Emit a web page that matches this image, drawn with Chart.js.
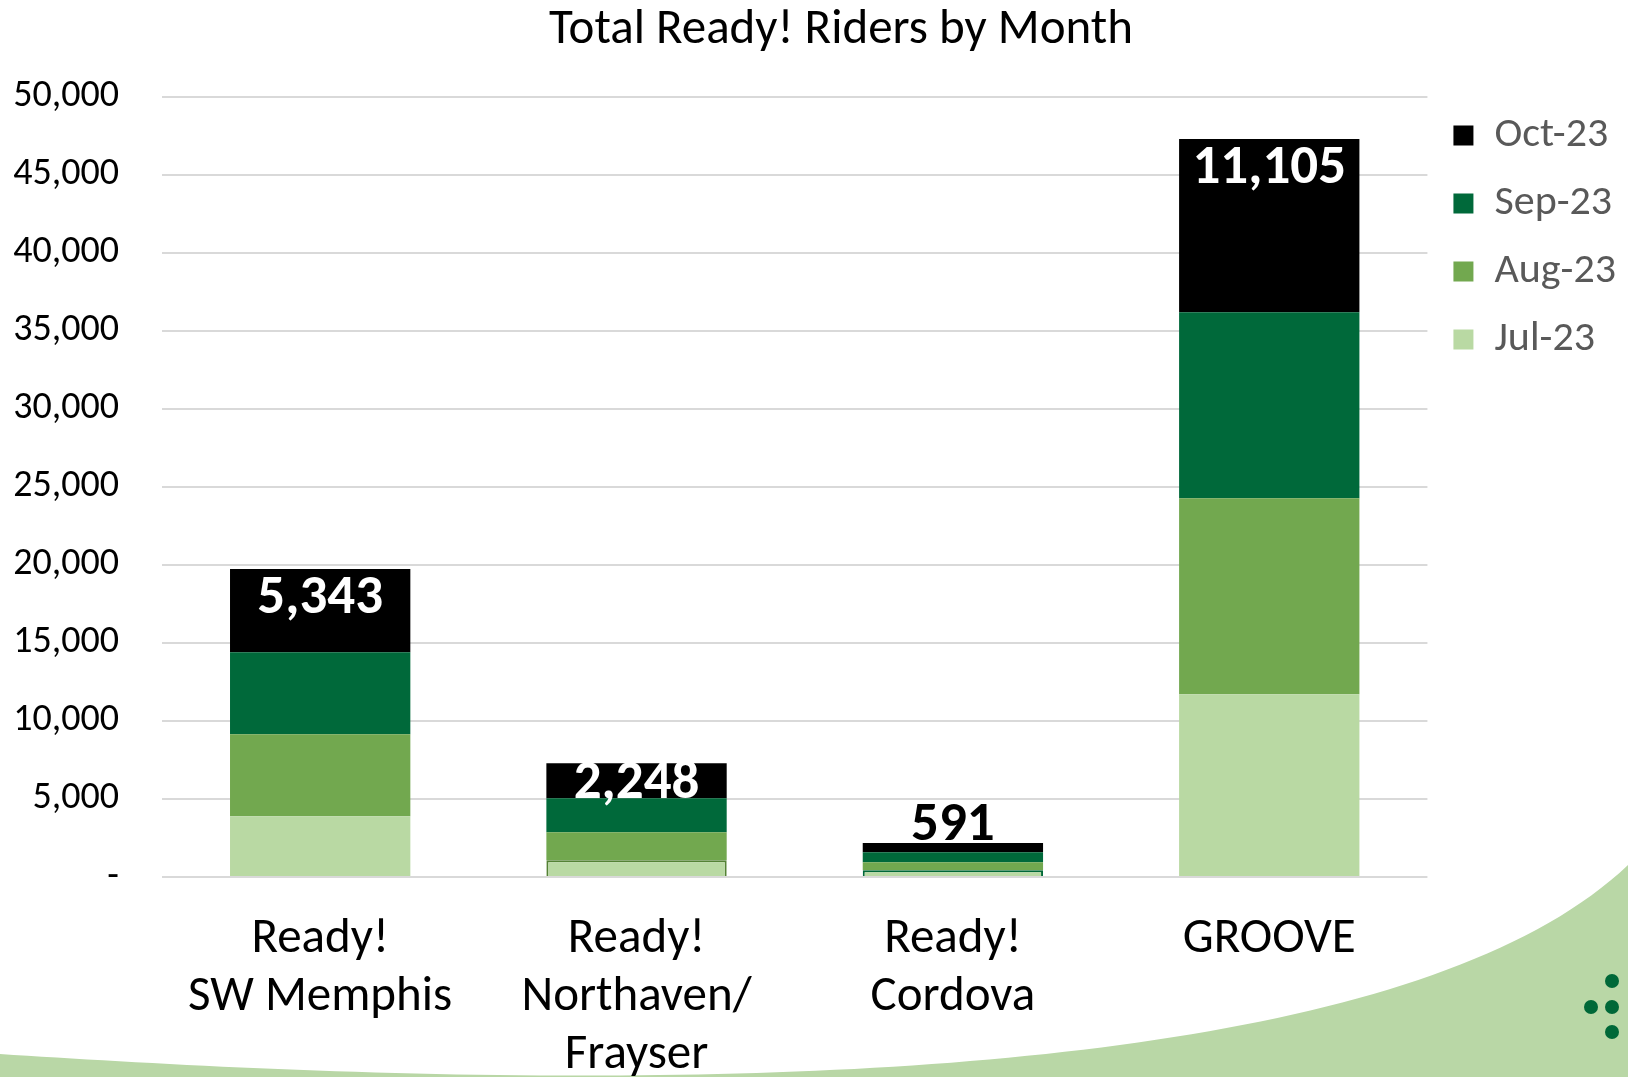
<!DOCTYPE html>
<html>
<head>
<meta charset="utf-8">
<script src="https://cdn.jsdelivr.net/npm/chart.js@4"></script>
<style>
  body { margin: 0; background: #fff; }
  canvas { display: block; }
</style>
</head>
<body>
<canvas id="riders" width="1628" height="1077"></canvas>
<script>
// Riders per service area, stacked by month

const areas = [['Ready!', 'SW Memphis'], ['Ready!', 'Northaven/', 'Frayser'], ['Ready!', 'Cordova'], 'GROOVE'];
const jul23 = [3890, 1070, 430, 11710];
const aug23 = [5260, 1800, 520, 12560];
const sep23 = [5250, 2170, 640, 11920];
const oct23 = [5343, 2248, 591, 11105];
const yTicks = [0, 5000, 10000, 15000, 20000, 25000, 30000, 35000, 40000, 45000, 50000];

const FONT = 'Carlito, Calibri, Lato, sans-serif';

// green swoosh + dots in the bottom corner (slide decoration)
const backdrop = {
    id: 'backdrop',
    afterLayout(chart) {
        // the slide title sits a little right of the canvas centre
        if (chart.titleBlock) chart.titleBlock.left += 56;
    },
    beforeDraw(chart) {
        const ctx = chart.ctx;
        const w = chart.width, h = chart.height;
        ctx.save();
        ctx.fillStyle = '#b9d7a6';
        ctx.beginPath();
        ctx.moveTo(0, h - 23);
        ctx.bezierCurveTo(400, h + 3, 1350, h + 53, w, h - 212);
        ctx.lineTo(w, h);
        ctx.lineTo(0, h);
        ctx.closePath();
        ctx.fill();
        ctx.fillStyle = '#006838';
        [[1612, 981], [1591, 1007], [1612, 1007], [1612, 1032]].forEach(p => {
            ctx.beginPath();
            ctx.arc(p[0], p[1], 7, 0, Math.PI * 2);
            ctx.fill();
        });
        ctx.restore();
    }
};

// Oct value label on top of each stack
const topLabels = {
    id: 'topLabels',
    afterDatasetsDraw(chart) {
        const ctx = chart.ctx;
        const meta = chart.getDatasetMeta(3);
        ctx.save();
        ctx.font = 'bold 55px ' + FONT;
        ctx.textAlign = 'center';
        ctx.textBaseline = 'middle';
        meta.data.forEach((bar, i) => {
            const text = oct23[i].toLocaleString('en-US');
            const hgt = bar.base - bar.y;
            if (hgt >= 30) {
                ctx.fillStyle = '#ffffff';
                ctx.fillText(text, bar.x, bar.y + Math.min(30, hgt / 2 + 3));
            } else {
                ctx.fillStyle = '#000000';
                ctx.fillText(text, bar.x, bar.y - 17);
            }
        });
        ctx.restore();
    }
};

const ctx = document.getElementById('riders').getContext('2d');
const ridersChart = new Chart(ctx, {
    type: 'bar',
    data: {
        labels: areas,
        datasets: [
            {
                label: 'Jul-23',
                data: jul23,
                backgroundColor: '#b9d9a3',
                borderColor: ['#b9d9a3', '#548235', '#006838', '#b9d9a3'],
                borderWidth: [0, 2, 2, 0]
            },
            { label: 'Aug-23', data: aug23, backgroundColor: '#72a84f' },
            { label: 'Sep-23', data: sep23, backgroundColor: '#00693a' },
            { label: 'Oct-23', data: oct23, backgroundColor: '#000000' }
        ]
    },
    options: {
        responsive: false,
        animation: false,
        devicePixelRatio: 1,
        categoryPercentage: 1,
        barPercentage: 0.57,
        layout: { padding: { left: 0, right: 2, top: 0, bottom: 0 } },
        plugins: {
            title: {
                display: true,
                text: 'Total Ready! Riders by Month',
                color: '#000000',
                font: { family: FONT, size: 49, weight: 'normal', lineHeight: 1.2 },
                padding: { top: 1, bottom: 37 }
            },
            legend: {
                position: 'right',
                align: 'start',
                reverse: true,
                title: { display: true, text: '', padding: { top: 74, bottom: 0 } },
                labels: {
                    color: '#595959',
                    font: { family: FONT, size: 42 },
                    boxWidth: 20,
                    boxHeight: 20,
                    padding: 26
                }
            },
            tooltip: { enabled: false }
        },
        scales: {
            x: {
                stacked: true,
                grid: { display: false },
                border: { display: false },
                ticks: {
                    color: '#000000',
                    font: { family: FONT, size: 49, lineHeight: 1.18 },
                    padding: 26,
                    maxRotation: 0,
                    autoSkip: false
                },
                afterFit(scale) { scale.height = 200; }
            },
            y: {
                stacked: true,
                min: 0,
                max: 50000,
                afterBuildTicks(scale) { scale.ticks = yTicks.map(v => ({ value: v })); },
                grid: { color: '#d9d9d9', lineWidth: 2, drawTicks: false },
                border: { display: false },
                ticks: {
                    color: '#000000',
                    font: { family: FONT, size: 38 },
                    padding: 43,
                    callback: v => v === 0 ? '-' : v.toLocaleString('en-US')
                },
                afterFit(scale) { scale.width = 162; }
            }
        }
    },
    plugins: [backdrop, topLabels]
});
</script>
</body>
</html>
